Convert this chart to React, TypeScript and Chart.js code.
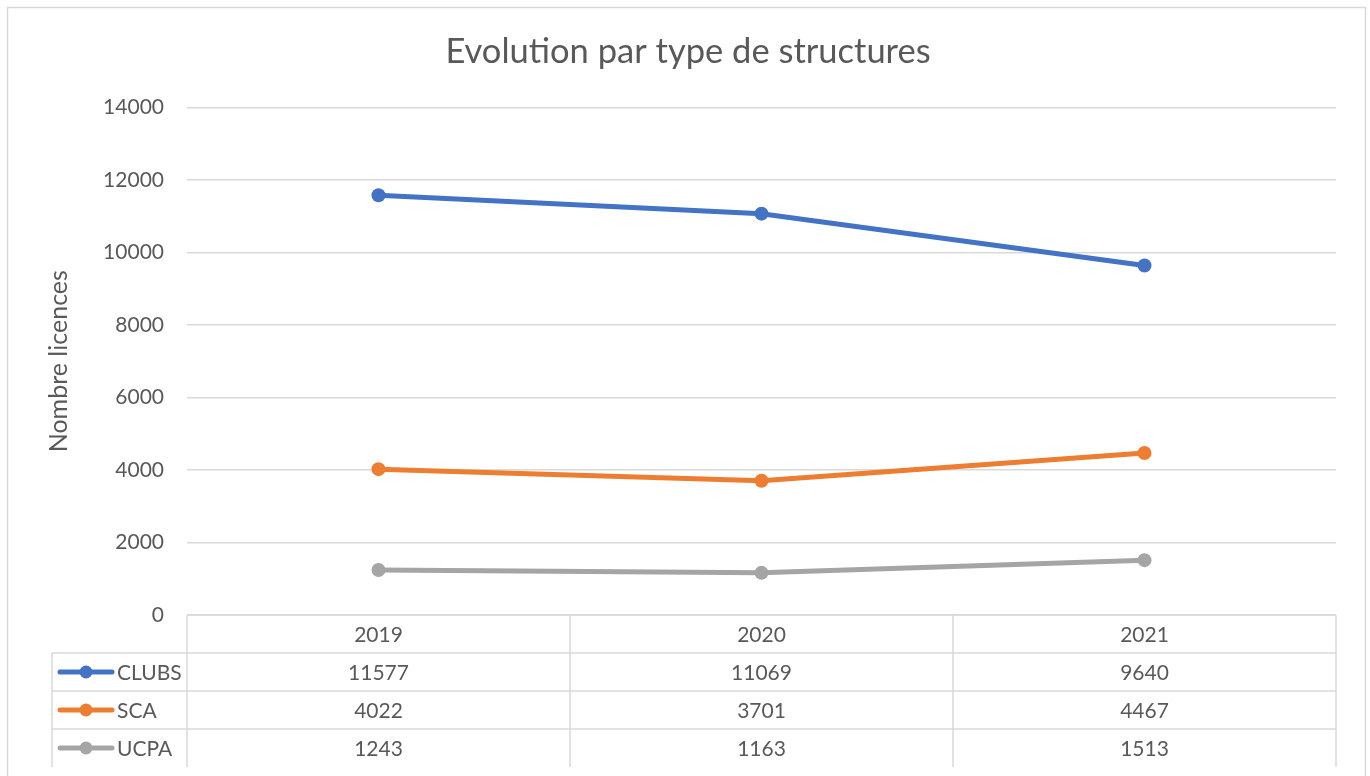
import React, { useEffect, useRef } from "react";
import { Chart, registerables } from "chart.js";

Chart.register(...registerables);

const title = "Evolution par type de structures";
const yAxisTitle = "Nombre licences";
const categories = ["2019", "2020", "2021"];
const seriesNames = ["CLUBS", "SCA", "UCPA"];
const clubs = [11577, 11069, 9640];
const sca = [4022, 3701, 4467];
const ucpa = [1243, 1163, 1513];
const colors = ["#4472C4", "#ED7D31", "#A5A5A5"];
const yTicks = [0, 2000, 4000, 6000, 8000, 10000, 12000, 14000];

const FONT = "Lato, 'Open Sans', sans-serif";
const TEXT = "#595959";
const LINE = "#d9d9d9";

const tablePlugin = {
  id: "dataTable",
  beforeDraw(chart: any) {
    const ctx = chart.ctx;
    ctx.save();
    ctx.strokeStyle = LINE;
    ctx.lineWidth = 1.5;
    ctx.strokeRect(7.5, 7.5, 1358, 800);
    ctx.restore();
  },
  afterDraw(chart: any) {
    const ctx = chart.ctx;
    const x = chart.scales.x;
    const area = chart.chartArea;
    const rowH = 38;
    const top = area.bottom;
    const legendLeft = 52;
    const n = categories.length;
    const colW = (area.right - area.left) / n;
    const rows = seriesNames.length;
    ctx.save();
    ctx.strokeStyle = LINE;
    ctx.lineWidth = 1.5;
    ctx.beginPath();
    ctx.moveTo(area.left, top);
    ctx.lineTo(area.right, top);
    for (let r = 1; r <= rows; r++) {
      const yy = top + rowH * r;
      ctx.moveTo(legendLeft, yy);
      ctx.lineTo(area.right, yy);
    }
    for (let c = 0; c <= n; c++) {
      const xx = area.left + colW * c;
      ctx.moveTo(xx, top);
      ctx.lineTo(xx, top + rowH * (rows + 1));
    }
    ctx.moveTo(legendLeft, top + rowH);
    ctx.lineTo(legendLeft, top + rowH * (rows + 1));
    ctx.stroke();

    ctx.fillStyle = TEXT;
    ctx.font = `21px ${FONT}`;
    ctx.textAlign = "center";
    ctx.textBaseline = "middle";
    categories.forEach((cat, i) => {
      ctx.fillText(cat, x.getPixelForValue(i), top + rowH / 2 + 1);
    });
    chart.data.datasets.forEach((ds: any, r: number) => {
      const cy = top + rowH * (r + 1) + rowH / 2 + 1;
      ds.data.forEach((v: number, i: number) => {
        ctx.fillStyle = TEXT;
        ctx.textAlign = "center";
        ctx.fillText(String(v), x.getPixelForValue(i), cy);
      });
      const ky = cy - 1;
      ctx.strokeStyle = ds.borderColor;
      ctx.lineWidth = 5;
      ctx.lineCap = "round";
      ctx.beginPath();
      ctx.moveTo(60, ky);
      ctx.lineTo(112, ky);
      ctx.stroke();
      ctx.fillStyle = ds.borderColor;
      ctx.beginPath();
      ctx.arc(86, ky, 6.5, 0, Math.PI * 2);
      ctx.fill();
      ctx.fillStyle = TEXT;
      ctx.textAlign = "left";
      ctx.fillText(ds.label, 117, cy);
    });
    ctx.restore();
  },
};

export default function App() {
  const ref = useRef<HTMLCanvasElement | null>(null);
  useEffect(() => {
    if (!ref.current) return;
    const seriesValues = [clubs, sca, ucpa];
    const chart = new Chart(ref.current, {
      type: "line",
      data: {
        labels: categories,
        datasets: seriesNames.map((name, i) => ({
          label: name,
          data: seriesValues[i],
          borderColor: colors[i],
          backgroundColor: colors[i],
          borderWidth: 5,
          pointRadius: 7,
          pointHoverRadius: 7,
          pointBorderWidth: 0,
          tension: 0,
        })),
      },
      options: {
        responsive: false,
        animation: false,
        layout: { padding: { left: 40, right: 34, top: 0, bottom: 161 } },
        plugins: {
          legend: { display: false },
          tooltip: { enabled: false },
          title: {
            display: true,
            text: title,
            color: TEXT,
            font: { family: FONT, size: 34.5, weight: "normal" },
            padding: { top: 31, bottom: 35 },
          },
        },
        scales: {
          x: {
            type: "category",
            offset: true,
            display: false,
          },
          y: {
            min: 0,
            max: 14000,
            afterFit(scale: any) {
              scale.width = 147;
            },
            afterBuildTicks(scale: any) {
              scale.ticks = yTicks.map((v) => ({ value: v }));
            },
            border: { display: false },
            grid: { color: LINE, lineWidth: 1.5, drawTicks: false },
            ticks: {
              color: TEXT,
              padding: 23,
              font: { family: FONT, size: 21 },
              callback: (v: any) => String(v),
            },
            title: {
              display: true,
              text: yAxisTitle,
              color: TEXT,
              font: { family: FONT, size: 25 },
              padding: { top: 4, bottom: 4 },
            },
          },
        },
      },
      plugins: [tablePlugin],
    });
    return () => chart.destroy();
  }, []);
  return (
    <div style={{ position: "absolute", left: 0, top: 0, width: 1370, height: 776, background: "#fff" }}>
      <canvas ref={ref} width={1370} height={776} style={{ display: "block" }} />
    </div>
  );
}
